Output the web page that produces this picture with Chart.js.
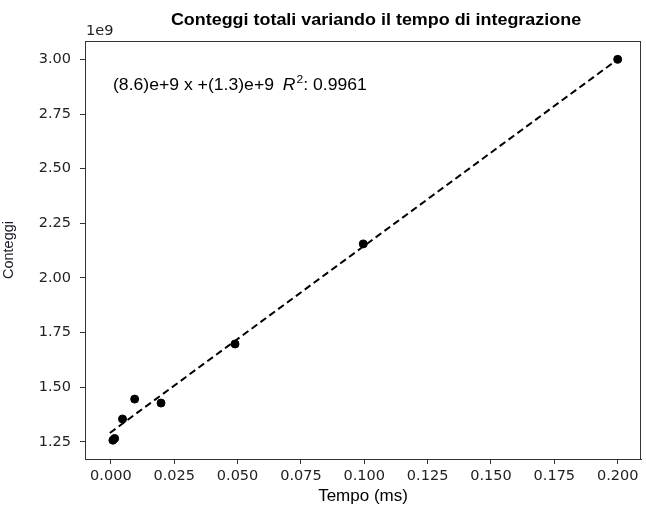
<!DOCTYPE html>
<html>
<head>
<meta charset="utf-8">
<script src="https://cdn.jsdelivr.net/npm/chart.js@4/dist/chart.umd.min.js"></script>
<style>
  html, body { margin: 0; padding: 0; background: #fff; }
  canvas { display: block; }
</style>
</head>
<body>
<canvas id="chart" width="646" height="515"></canvas>
<script>
// tempo di integrazione (ms) e conteggi (in unita di 1e9)
const tempo = [0.0008, 0.0015, 0.0046, 0.0094, 0.0198, 0.049, 0.0996, 0.2];
const conteggi = [1.258, 1.266, 1.355, 1.446, 1.428, 1.698, 2.156, 3.0];

// retta di fit (estremi)
const fitX = [-0.0004, 0.2];
const fitY = [1.291, 3.0];

const xTicks = { min: -0.0102, max: 0.2092, step: 0.025 };
const yTicks = { min: 1.172, max: 3.084, step: 0.25 };

const titleText = 'Conteggi totali variando il tempo di integrazione';
const fitText = '(8.6)e+9 x +(1.3)e+9';
const r2Text = ': 0.9961';

const tickFont = { family: 'DejaVu Sans', size: 14.5 };

// the reference text is a bit wider than Liberation Sans, so stretch it a little
function wideText(ctx, parts, x, y, sx) {
    ctx.save();
    ctx.translate(x, y);
    ctx.scale(sx, 1);
    let cx = 0;
    parts.forEach(p => {
        ctx.font = p.font;
        ctx.fillText(p.text, cx + (p.dx || 0), p.dy || 0);
        cx += ctx.measureText(p.text).width + (p.dx || 0);
    });
    ctx.restore();
}

const extras = {
    id: 'extras',
    afterDraw(chart) {
        const ctx = chart.ctx;
        const a = chart.chartArea;
        ctx.save();
        // cornice
        ctx.strokeStyle = '#333';
        ctx.lineWidth = 1;
        ctx.strokeRect(a.left + 0.5, a.top + 0.5, a.right - a.left - 1, a.bottom - a.top);

        ctx.fillStyle = '#000';
        ctx.textBaseline = 'alphabetic';
        ctx.textAlign = 'left';
        // titolo
        ctx.font = 'bold 16px "Liberation Sans"';
        const tw = ctx.measureText(titleText).width * 1.12;
        wideText(ctx, [{ text: titleText, font: 'bold 16px "Liberation Sans"' }], 376 - tw / 2, 25, 1.12);

        // offset asse y
        ctx.fillStyle = '#222';
        ctx.font = '14.5px "DejaVu Sans"';
        ctx.fillText('1e9', a.left + 1, 35);

        // equazione del fit
        ctx.fillStyle = '#000';
        wideText(ctx, [
            { text: fitText, font: '16px "Liberation Sans"' },
            { text: 'R', font: 'italic 16px "Liberation Sans"', dx: 8 },
            { text: '2', font: '11px "Liberation Sans"', dx: 1, dy: -7 },
            { text: r2Text, font: '16px "Liberation Sans"' }
        ], 113, 90, 1.1);
        ctx.restore();
    }
};

new Chart(document.getElementById('chart').getContext('2d'), {
    type: 'scatter',
    data: {
        datasets: [{
            data: tempo.map((t, i) => ({ x: t, y: conteggi[i] })),
            backgroundColor: '#000',
            borderColor: '#000',
            pointRadius: 4,
            pointHoverRadius: 4
        }, {
            data: fitX.map((t, i) => ({ x: t, y: fitY[i] })),
            showLine: true,
            borderColor: '#000',
            borderWidth: 2,
            borderDash: [7, 4],
            pointRadius: 0
        }]
    },
    options: {
        responsive: false,
        animation: false,
        devicePixelRatio: 1,
        layout: { padding: { top: 41, right: 2 } },
        plugins: {
            legend: { display: false },
            tooltip: { enabled: false }
        },
        scales: {
            x: {
                type: 'linear',
                min: xTicks.min,
                max: xTicks.max,
                afterFit: s => { s.height = 56; },
                border: { display: true, color: '#333' },
                grid: { drawOnChartArea: false, tickLength: 5, tickColor: '#333' },
                ticks: {
                    stepSize: xTicks.step,
                    includeBounds: false,
                    autoSkip: false,
                    maxRotation: 0,
                    padding: 4,
                    color: '#222',
                    font: tickFont,
                    callback: v => v.toFixed(3)
                },
                title: {
                    display: true,
                    text: 'Tempo (ms)',
                    color: '#000',
                    font: { family: 'Liberation Sans', size: 17 },
                    padding: { top: 0, bottom: 8 }
                }
            },
            y: {
                type: 'linear',
                min: yTicks.min,
                max: yTicks.max,
                afterFit: s => { s.width = 85; },
                border: { display: true, color: '#333' },
                grid: { drawOnChartArea: false, tickLength: 5, tickColor: '#333' },
                ticks: {
                    stepSize: yTicks.step,
                    includeBounds: false,
                    autoSkip: false,
                    padding: 9,
                    color: '#222',
                    font: tickFont,
                    callback: v => v.toFixed(2)
                },
                title: {
                    display: true,
                    text: 'Conteggi',
                    color: '#1a1a2a',
                    font: { family: 'Liberation Sans', size: 14.5 },
                    padding: { top: 0, bottom: 9 }
                }
            }
        }
    },
    plugins: [extras]
});
</script>
</body>
</html>
